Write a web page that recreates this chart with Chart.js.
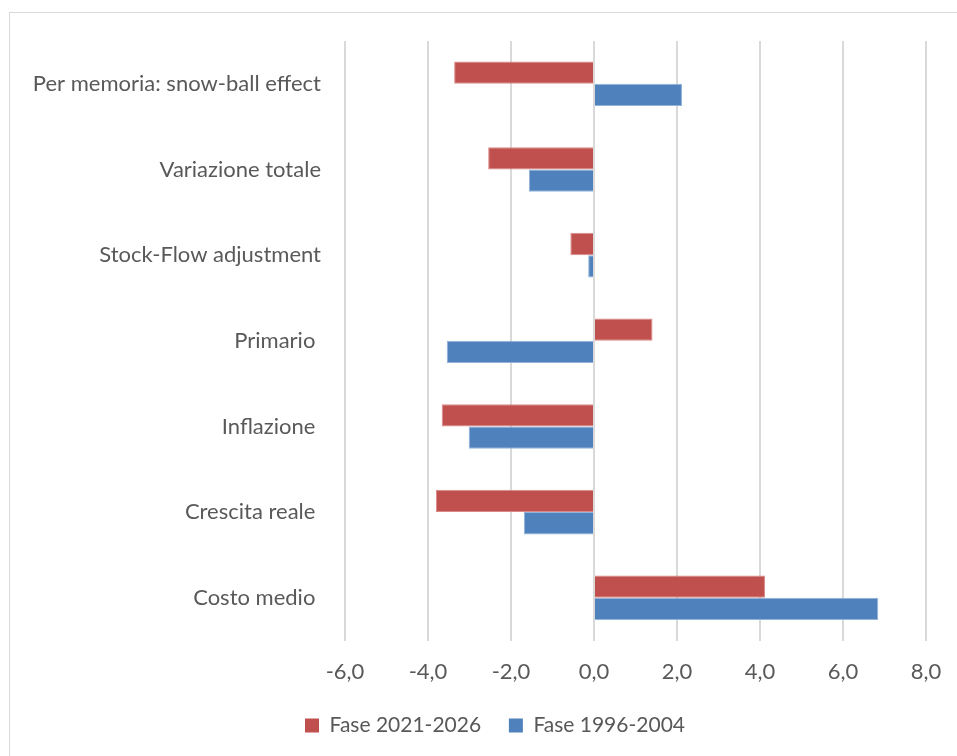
<!DOCTYPE html>
<html>
<head>
<meta charset="utf-8">
<script src="https://cdn.jsdelivr.net/npm/chart.js@4.4.0/dist/chart.umd.min.js"></script>
<style>
    body { margin: 0; background: #fff; overflow: hidden; }
    #wrap { position: relative; width: 957px; height: 756px; }
    #frame { position: absolute; left: 9px; top: 12px; width: 1000px; height: 800px; border: 1px solid #d9d9d9; }
    canvas { position: absolute; left: 0; top: 0; }
</style>
</head>
<body>
<div id="wrap">
    <div id="frame"></div>
    <canvas id="debt-chart" width="957" height="756"></canvas>
</div>
<script>
var categories = ['Per memoria: snow-ball effect', 'Variazione totale', 'Stock-Flow adjustment', 'Primario ', 'Inflazione ', 'Crescita reale ', 'Costo medio '];
var fase2021 = [-3.37, -2.55, -0.57, 1.41, -3.67, -3.81, 4.12];
var fase1996 = [2.12, -1.57, -0.14, -3.55, -3.02, -1.69, 6.85];
var seriesNames = ['Fase 2021-2026', 'Fase 1996-2004'];

var textColor = '#595959';
var fontFamily = 'Lato, "Open Sans", sans-serif';

// nudge the legend so it sits centred like the original
const legendShift = {
    id: 'legendShift',
    afterLayout: function (chart) {
        if (chart.legend) {
            chart.legend.left += 32;
            chart.legend.right += 32;
        }
    }
};

const ctx = document.getElementById('debt-chart').getContext('2d');
var myChart = new Chart(ctx, {
    type: 'bar',
    data: {
        labels: categories,
        datasets: [{
            label: seriesNames[0], data: fase2021, backgroundColor: '#C0504D', borderColor: '#d98a88', borderWidth: 1,
        }, {
            label: seriesNames[1], data: fase1996, backgroundColor: '#4F81BD', borderColor: '#94b3d9', borderWidth: 1,
        }]
    },
    plugins: [legendShift],
    options: {
        indexAxis: 'y',
        responsive: false,
        animation: false,
        layout: {padding: {top: 41, right: 31, bottom: 10, left: 0}},
        datasets: {bar: {barPercentage: 1, categoryPercentage: 0.52}},
        plugins: {
            tooltip: {enabled: false},
            legend: {
                position: 'bottom',
                labels: {
                    color: textColor, boxWidth: 14, boxHeight: 14, padding: 12,
                    font: {family: fontFamily, size: 21},
                    generateLabels: function (chart) {
                        var items = Chart.defaults.plugins.legend.labels.generateLabels(chart);
                        items.forEach(function (it, i) {
                            it.lineWidth = 0;
                            if (i < items.length - 1) it.text = it.text + '\u2003';
                        });
                        return items;
                    }
                }
            }
        },
        scales: {
            x: {
                min: -6, max: 8,
                grid: {color: '#d9d9d9', lineWidth: 2, drawTicks: false},
                border: {display: false},
                ticks: {
                    stepSize: 2, padding: 18, color: textColor,
                    font: {family: fontFamily, size: 22},
                    callback: function (v) { return v.toFixed(1).replace('.', ','); }
                },
                afterFit: function (scale) { scale.paddingLeft = 0; scale.paddingRight = 0; }
            },
            y: {
                grid: {display: false, drawTicks: false},
                border: {display: false},
                ticks: {padding: 24, color: textColor, font: {family: fontFamily, size: 22}},
                afterFit: function (scale) { scale.width = 345; }
            }
        }
    }
});
</script>
</body>
</html>
